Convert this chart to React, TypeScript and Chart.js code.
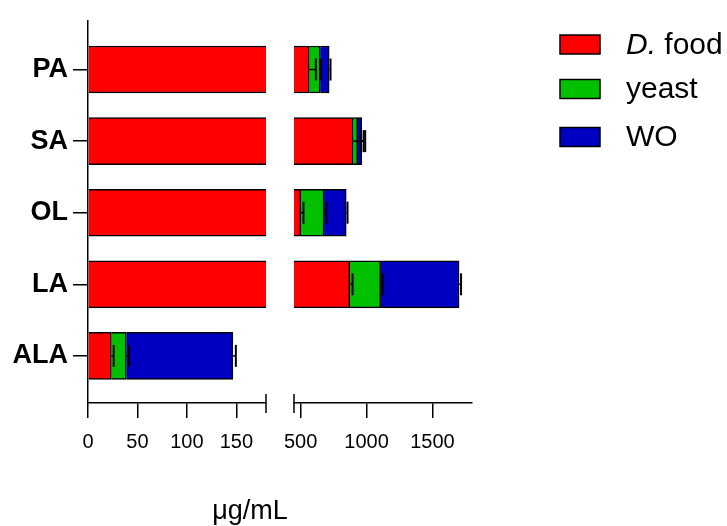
import React, { useEffect, useRef } from 'react';
import { Chart, registerables } from 'chart.js';

Chart.register(...registerables);

// ---------- data ----------
const categories = ['PA', 'SA', 'OL', 'LA', 'ALA'];
const seriesNames = ['D. food', 'yeast', 'WO'];
const foodValues = [566, 898, 502, 873, 23.6];
const yeastValues = [83, 35, 176, 235, 15.2];
const woValues = [68, 31, 168, 594, 107.7];
const foodErr = [50, 60, 20, 21, 2.4];
const yeastErr = [5, 45, 17, 14, 2.7];
const woErr = [10, 26, 10, 15, 3];
const leftTicks = [0, 50, 100, 150];
const rightTicks = [500, 1000, 1500];
const leftRange = [0, 180];
const rightRange = [450, 1800];
const axisTitle = 'μg/mL';

// ---------- style / layout ----------
const W = 727;
const H = 526;
const PLOT_LEFT = 88;
const PLOT_RIGHT = 472;
const PLOT_TOP = 18;
const PLOT_BOTTOM = 403;
const SEG_W = 178;
const COLORS = ['#ff0000', '#00c000', '#0000c0'];
const FONT = '"Liberation Sans", Arial, Helvetica, sans-serif';
const LW = 1.5;

const seriesValues = [foodValues, yeastValues, woValues];
const seriesErrs = [foodErr, yeastErr, woErr];

function ranges(s: number) {
  return categories.map((_, i) => {
    let start = 0;
    for (let k = 0; k < s; k++) start += seriesValues[k][i];
    return { y: i, x: [start, start + seriesValues[s][i]] };
  });
}

const brokenAxisPlugin = {
  id: 'brokenAxis',
  afterLayout(chart: any) {
    const a = chart.chartArea;
    const x1 = chart.scales.x1;
    const x2 = chart.scales.x2;
    x1.left = a.left;
    x1.right = a.left + SEG_W;
    x1.width = SEG_W;
    x2.left = a.right - SEG_W;
    x2.right = a.right;
    x2.width = SEG_W;
    x1.configure();
    x2.configure();
  },
  beforeDatasetDraw(chart: any, args: any) {
    const xs = chart.scales[args.meta.xAxisID];
    const ctx = chart.ctx;
    ctx.save();
    ctx.beginPath();
    ctx.rect(xs.left, 0, xs.right - xs.left, chart.height);
    ctx.clip();
  },
  afterDatasetDraw(chart: any) {
    chart.ctx.restore();
  },
  afterDatasetsDraw(chart: any) {
    const ctx = chart.ctx;
    const y = chart.scales.y;
    const x1 = chart.scales.x1;
    const x2 = chart.scales.x2;
    ctx.save();
    ctx.strokeStyle = '#000';
    categories.forEach((_, i) => {
      let cum = 0;
      seriesValues.forEach((vals, s) => {
        cum += vals[i];
        const err = seriesErrs[s][i];
        const xs = cum <= leftRange[1] ? x1 : x2;
        const p0 = xs.getPixelForValue(cum);
        const p1 = xs.getPixelForValue(cum + err);
        const py = y.getPixelForValue(i);
        ctx.lineWidth = 1.5;
        ctx.beginPath();
        ctx.moveTo(p0, py);
        ctx.lineTo(p1, py);
        ctx.stroke();
        ctx.lineWidth = 2;
        ctx.beginPath();
        ctx.moveTo(p1, py - 11);
        ctx.lineTo(p1, py + 11);
        ctx.stroke();
      });
    });
    ctx.restore();
  },
  afterDraw(chart: any) {
    const ctx = chart.ctx;
    const x1 = chart.scales.x1;
    const x2 = chart.scales.x2;
    ctx.save();
    // break marks
    ctx.strokeStyle = '#000';
    ctx.lineWidth = LW;
    ctx.beginPath();
    ctx.moveTo(x1.right, PLOT_BOTTOM - 9);
    ctx.lineTo(x1.right, PLOT_BOTTOM + 10);
    ctx.moveTo(x2.left, PLOT_BOTTOM - 9);
    ctx.lineTo(x2.left, PLOT_BOTTOM + 10);
    ctx.stroke();

    // axis title
    ctx.fillStyle = '#000';
    ctx.font = `27px ${FONT}`;
    ctx.textAlign = 'center';
    ctx.textBaseline = 'alphabetic';
    ctx.fillText(axisTitle, 250, 519);

    // legend
    const boxX = 560;
    const boxW = 40;
    const boxH = 19;
    const rowsY = [44.5, 89, 137];
    seriesNames.forEach((name, s) => {
      const cy = rowsY[s];
      ctx.fillStyle = COLORS[s];
      ctx.fillRect(boxX, cy - boxH / 2, boxW, boxH);
      ctx.strokeStyle = '#000';
      ctx.lineWidth = LW;
      ctx.strokeRect(boxX, cy - boxH / 2, boxW, boxH);
      ctx.fillStyle = '#000';
      ctx.textAlign = 'left';
      ctx.textBaseline = 'middle';
      let tx = 626;
      if (name.startsWith('D.')) {
        ctx.font = `italic 30px ${FONT}`;
        ctx.fillText('D.', tx, cy + 1);
        tx += ctx.measureText('D.').width;
        ctx.font = `30px ${FONT}`;
        ctx.fillText(name.slice(2), tx, cy + 1);
      } else {
        ctx.font = `30px ${FONT}`;
        ctx.fillText(name, tx, cy + 1);
      }
    });
    ctx.restore();
  },
};

export default function App() {
  const ref = useRef<HTMLCanvasElement | null>(null);

  useEffect(() => {
    if (!ref.current) return;
    const datasets: any[] = [];
    ['x1', 'x2'].forEach((axisId) => {
      seriesNames.forEach((name, s) => {
        datasets.push({
          label: name,
          data: ranges(s),
          xAxisID: axisId,
          yAxisID: 'y',
          backgroundColor: COLORS[s],
          borderColor: '#000',
          borderWidth: { top: LW, bottom: LW, right: LW, left: 0 },
          borderSkipped: false,
          barThickness: 47,
          grouped: false,
        });
      });
    });

    const xCommon = (ticks: number[], range: number[]) => ({
      type: 'linear',
      position: 'bottom',
      stack: 'xaxis',
      min: range[0],
      max: range[1],
      offset: false,
      afterBuildTicks: (scale: any) => {
        scale.ticks = ticks.map((v) => ({ value: v }));
      },
      afterFit: (scale: any) => {
        scale.height = H - PLOT_BOTTOM;
      },
      border: { display: true, color: '#000', width: LW },
      grid: {
        display: true,
        offset: false,
        drawOnChartArea: false,
        drawTicks: true,
        tickLength: 15,
        color: '#000',
        lineWidth: LW,
      },
      ticks: {
        autoSkip: false,
        maxRotation: 0,
        padding: 12,
        color: '#000',
        font: { family: FONT, size: 20 },
        callback: (v: any) => String(v),
      },
    });

    const chart = new Chart(ref.current, {
      type: 'bar',
      data: { datasets },
      options: {
        indexAxis: 'y',
        animation: false,
        responsive: false,
        devicePixelRatio: 1,
        layout: { padding: { top: PLOT_TOP, right: W - PLOT_RIGHT, left: 0, bottom: 0 } },
        plugins: { legend: { display: false }, tooltip: { enabled: false }, title: { display: false } },
        scales: {
          x1: xCommon(leftTicks, leftRange),
          x2: xCommon(rightTicks, rightRange),
          y: {
            type: 'linear',
            position: 'left',
            reverse: true,
            offset: false,
            min: -0.675,
            max: 4.658,
            afterBuildTicks: (scale: any) => {
              scale.ticks = categories.map((_, i) => ({ value: i }));
            },
            afterFit: (scale: any) => {
              scale.width = PLOT_LEFT;
            },
            border: { display: true, color: '#000', width: LW },
            grid: {
              display: true,
              offset: false,
              drawOnChartArea: false,
              drawTicks: true,
              tickLength: 15,
              color: '#000',
              lineWidth: LW,
            },
            ticks: {
              autoSkip: false,
              padding: 5,
              color: '#000',
              font: { family: FONT, size: 27, weight: 'bold' },
              callback: (v: any) => categories[v] ?? '',
            },
          },
        },
      } as any,
      plugins: [brokenAxisPlugin],
    });
    return () => chart.destroy();
  }, []);

  return (
    <div style={{ position: 'absolute', left: 0, top: 0, width: W, height: H }}>
      <canvas ref={ref} width={W} height={H} style={{ width: W, height: H }} />
    </div>
  );
}
